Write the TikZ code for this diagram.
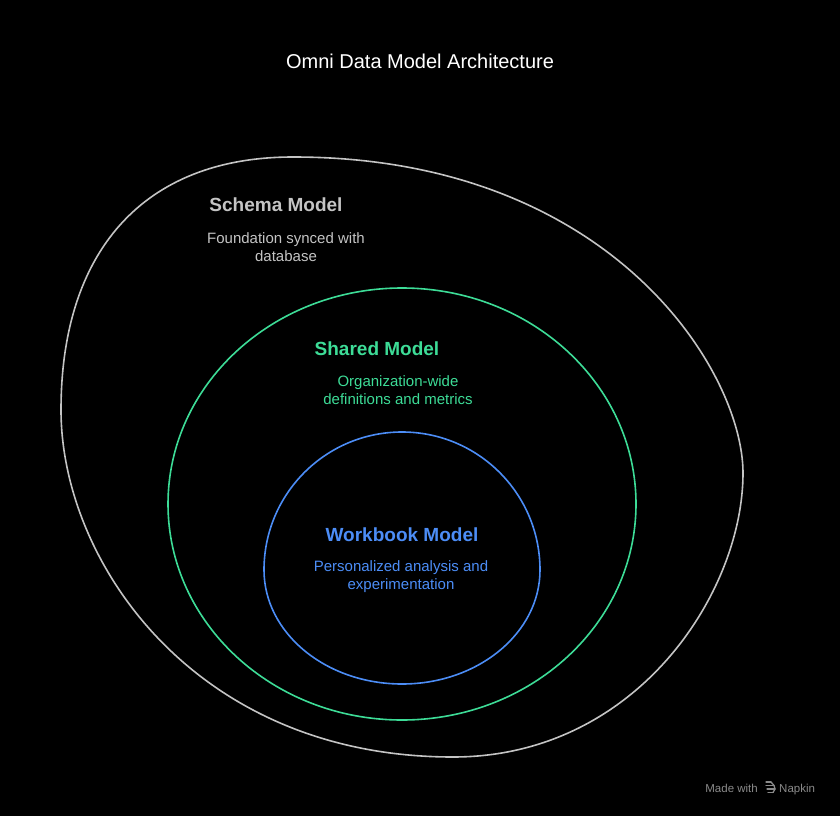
\documentclass[tikz,border=0pt]{standalone}
\usepackage{fontspec}
\setmainfont{Liberation Sans}
\definecolor{schemac}{HTML}{C4C4C4}
\definecolor{sharedc}{HTML}{3DDC97}
\definecolor{workc}{HTML}{4C8DF6}
\definecolor{napc}{HTML}{8A8A8A}
\begin{document}
\begin{tikzpicture}[x=1pt,y=-1pt,
  ring/.style={line width=1.6pt},
  heading/.style={font=\bfseries\fontsize{19}{22}\selectfont, anchor=center, inner sep=0pt},
  desc/.style={font=\fontsize{15}{18}\selectfont, align=center, anchor=center, inner sep=0pt},
  foot/.style={font=\fontsize{11.5}{13}\selectfont, text=napc, inner sep=0pt}]
\fill[black] (0,0) rectangle (840,816);
\useasboundingbox (0,0) rectangle (840,816);
% title
\node[font=\fontsize{20}{24}\selectfont, text=white, inner sep=0pt] (title) at (420,61) {Omni Data Model Architecture};
% outer schema blob
\draw[ring, schemac] (293,157)
  .. controls (612,157) and (743,372) .. (743,473)
  .. controls (743,592) and (637,757) .. (453,757)
  .. controls (194,757) and (61,561) .. (61,410)
  .. controls (61,254) and (141,157) .. cycle;
% shared ellipse
\draw[ring, sharedc] (402,504) ellipse [x radius=234, y radius=216];
% workbook egg
\draw[ring, workc] (264,570) arc[start angle=180, end angle=360, x radius=138, y radius=138]
   arc[start angle=0, end angle=180, x radius=138, y radius=114] -- cycle;
% texts
\node[heading, text=schemac] (schemaT) at (276,205) {Schema Model};
\node[desc, text=schemac] (schemaD) at (286,247) {Foundation synced with\\database};
\node[heading, text=sharedc] (sharedT) at (377,349) {Shared Model};
\node[desc, text=sharedc] (sharedD) at (398,390.5) {Organization-wide\\definitions and metrics};
\node[heading, text=workc] (workT) at (402,535) {Workbook Model};
\node[desc, text=workc] (workD) at (401,576.5) {Personalized analysis and\\experimentation};
% footer
\node[foot, anchor=base east] (made) at (758,792) {Made with};
\node[foot, anchor=base west] (napkin) at (779,792) {Napkin};
\begin{scope}[napc, line width=1.3pt, line cap=round]
\draw (766,782) -- (771,782);
\draw (766,785.5) -- (774,785.5);
\draw (767,789) -- (775,789);
\draw (768,792.5) -- (773,792.5);
\draw (771,782) -- (774,785.5) -- (775,789) -- (773,792.5);
\end{scope}
\end{tikzpicture}
\end{document}
